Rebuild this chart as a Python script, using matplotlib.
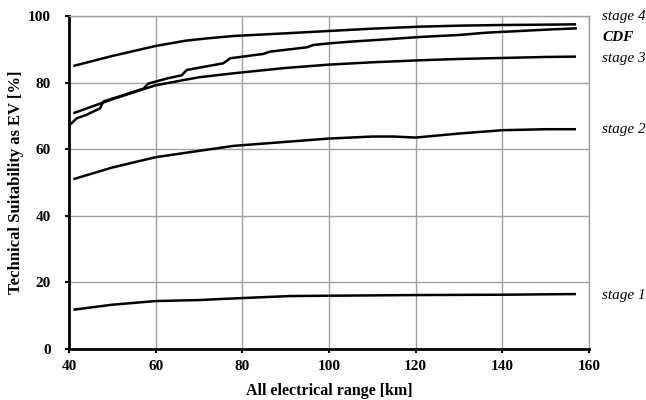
import matplotlib
matplotlib.use("Agg")
import matplotlib.pyplot as plt

plt.rcParams['font.family'] = ['Liberation Serif', 'DejaVu Serif']

# --- data ---
stage4_x = [41, 50, 60, 67, 72, 78, 90, 100, 110, 121, 130, 140, 150, 157]
stage4_y = [85.0, 88.0, 91.0, 92.6, 93.3, 94.0, 94.8, 95.5, 96.2, 96.8, 97.1, 97.3, 97.4, 97.5]

cdf_x = [40.2, 41.8, 44, 47.2, 47.9, 49.5, 52, 55, 57.2, 58.3, 62.5, 66.0, 67.2, 75.6, 77.2,
         84.8, 86.4, 94.9, 96.4, 100.2, 105, 113.3, 121, 130, 136.4, 144.1, 150, 157.2]
cdf_y = [67.3, 69.3, 70.3, 72.3, 74.3, 75.0, 76.0, 77.3, 78.2, 79.7, 81.2, 82.2, 83.8, 85.8, 87.3,
         88.6, 89.3, 90.6, 91.3, 91.8, 92.3, 93.0, 93.7, 94.3, 95.0, 95.5, 95.9, 96.3]

stage3_x = [41, 50, 60, 70, 78, 90, 100, 110, 121, 130, 140, 150, 157]
stage3_y = [70.8, 75.0, 79.2, 81.6, 82.8, 84.4, 85.4, 86.1, 86.7, 87.1, 87.4, 87.7, 87.8]

stage2_x = [41, 50, 60, 70, 78, 90, 100, 110, 115, 120, 130, 140, 150, 157]
stage2_y = [51.0, 54.5, 57.6, 59.5, 61.0, 62.2, 63.2, 63.8, 63.8, 63.5, 64.7, 65.7, 66.0, 66.0]

stage1_x = [41, 50, 60, 70, 80, 91, 100, 120, 140, 157]
stage1_y = [11.8, 13.3, 14.4, 14.7, 15.3, 15.9, 16.0, 16.2, 16.3, 16.5]

labels = ["stage 4", "CDF", "stage 3", "stage 2", "stage 1"]
label_y = [99.8, 93.6, 87.3, 65.8, 16.0]

xticks = [40, 60, 80, 100, 120, 140, 160]
yticks = [0, 20, 40, 60, 80, 100]

fig = plt.figure(figsize=(6.46, 4.0), dpi=100)
ax = fig.add_axes([69/646, 1-349/400, (589-69)/646, (349-16)/400])

for xs, ys in [(stage4_x, stage4_y), (cdf_x, cdf_y), (stage3_x, stage3_y),
               (stage2_x, stage2_y), (stage1_x, stage1_y)]:
    ax.plot(xs, ys, color='black', lw=1.8, solid_capstyle='butt')

ax.set_xlim(40, 160)
ax.set_ylim(0, 100)
ax.set_xticks(xticks)
ax.set_yticks(yticks)
ax.grid(True, color='#a0a0a0', lw=1.0)
ax.set_axisbelow(True)

for s in ['top', 'right']:
    ax.spines[s].set_color('#a0a0a0')
    ax.spines[s].set_linewidth(1.0)
for s in ['left', 'bottom']:
    ax.spines[s].set_color('black')
    ax.spines[s].set_linewidth(2.0)

ax.tick_params(axis='y', direction='out', length=3, width=1.5, pad=10, labelsize=11)
ax.tick_params(axis='x', direction='out', length=3, width=1.5, pad=5, labelsize=11)
for lab in ax.get_xticklabels() + ax.get_yticklabels():
    lab.set_fontweight('bold')

ax.set_xlabel("All electrical range [km]", fontsize=11.5, fontweight='bold', labelpad=7)
ax.set_ylabel("Technical Suitability as EV [%]", fontsize=12, fontweight='bold', labelpad=3)

for txt, yv in zip(labels, label_y):
    ax.text(163, yv, txt, fontsize=11, style='italic',
            fontweight='bold' if txt == "CDF" else 'normal',
            va='center', ha='left', clip_on=False)

fig.savefig("out.png", dpi=100)
